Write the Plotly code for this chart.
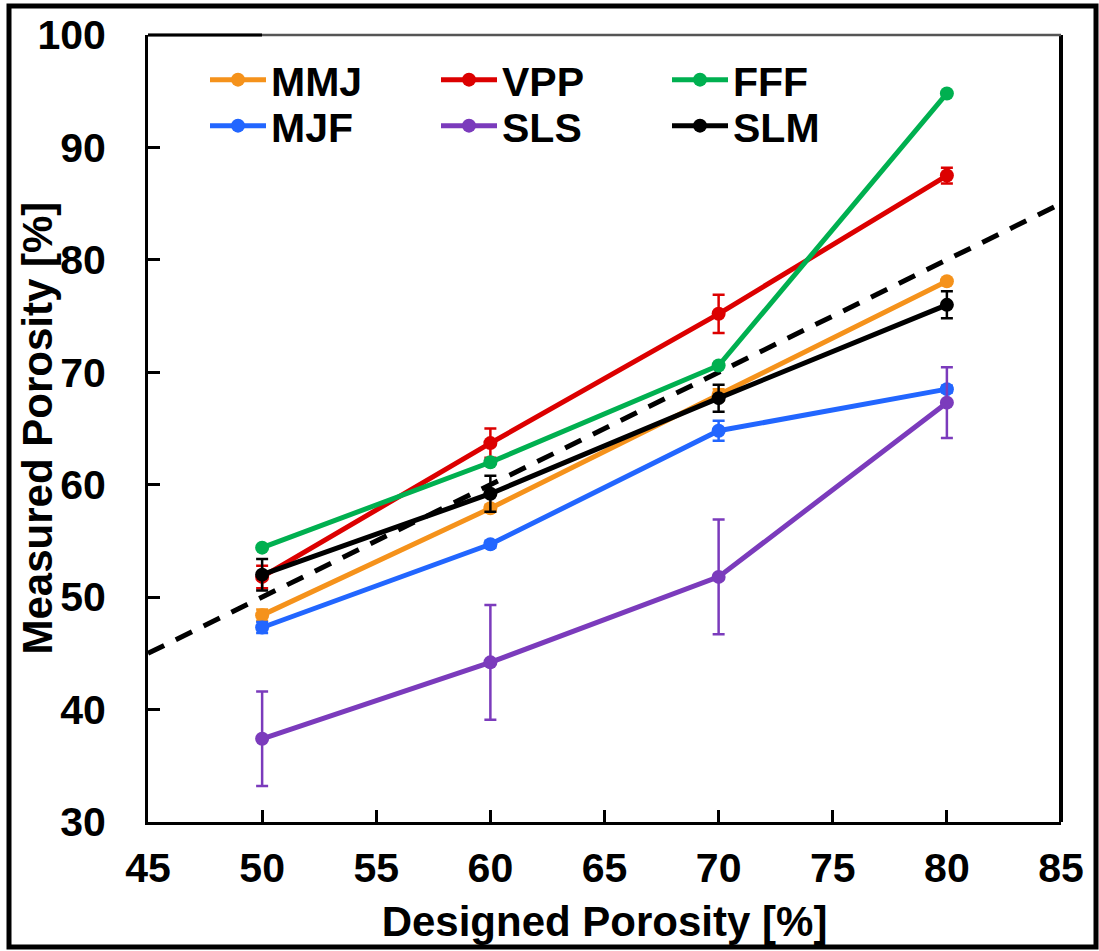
import plotly.graph_objects as go

designed = [50, 60, 70, 80]

series_names = ["MMJ", "VPP", "FFF", "MJF", "SLS", "SLM"]
mmj = [48.4, 57.9, 68.0, 78.1]
vpp = [51.8, 63.7, 75.2, 87.5]
fff = [54.4, 62.0, 70.6, 94.8]
mjf = [47.3, 54.7, 64.8, 68.5]
sls = [37.4, 44.2, 51.8, 67.3]
slm = [52.0, 59.2, 67.7, 76.0]

mmj_err = [0.5, 0.3, 0.5, 0.2]
vpp_err = [1.0, 1.3, 1.7, 0.7]
fff_err = [0.0, 0.0, 0.0, 0.0]
mjf_err = [0.5, 0.3, 0.9, 0.3]
sls_err = [4.2, 5.1, 5.1, 3.15]
slm_err = [1.4, 1.6, 1.2, 1.2]

ideal_x = [45, 85]
ideal_y = [45, 85]

x_title = "Designed Porosity [%]"
y_title = "Measured Porosity [%]"

colors = ["#F5921B", "#DC0000", "#00B050", "#2266FF", "#7B3BBC", "#000000"]
values = [mmj, vpp, fff, mjf, sls, slm]
errors = [mmj_err, vpp_err, fff_err, mjf_err, sls_err, slm_err]
legend_ids = ["legend", "legend", "legend", "legend2", "legend2", "legend2"]

FONT = "Liberation Sans, Arial, sans-serif"

fig = go.Figure()

fig.add_trace(go.Scatter(
    x=ideal_x, y=ideal_y, mode="lines",
    line=dict(color="black", width=5, dash="18px,13px"),
    showlegend=False, hoverinfo="skip",
))

for name, vals, err, col, lg in zip(series_names, values, errors, colors, legend_ids):
    fig.add_trace(go.Scatter(
        x=designed, y=vals, name=name, mode="lines+markers",
        line=dict(color=col, width=5),
        marker=dict(color=col, size=14),
        error_y=dict(type="data", array=err, visible=True,
                     color=col, thickness=2.5, width=6),
        legend=lg,
    ))

W, H = 1099, 951
L, R, T, B = 148, 1061, 35, 822
pw, ph = R - L, B - T

def px_x(p):
    return (p - L) / pw

def px_y(p):
    return (B - p) / ph

legend_common = dict(
    orientation="h", xanchor="left", yanchor="middle",
    entrywidth=160, entrywidthmode="pixels", itemwidth=56,
    font=dict(family=FONT, size=41, color="black", weight="bold"),
    bgcolor="rgba(0,0,0,0)", traceorder="normal",
)

fig.update_layout(
    width=W, height=H,
    margin=dict(l=L, r=W - R, t=T, b=H - B, pad=0),
    paper_bgcolor="white", plot_bgcolor="white",
    font=dict(family=FONT, size=41, color="black", weight="bold"),
    legend=dict(x=px_x(205), y=px_y(80), **legend_common),
    legend2=dict(x=px_x(205), y=px_y(126), **legend_common),
    xaxis=dict(
        range=[45, 85], tickmode="array", tickvals=list(range(45, 90, 5)),
        showgrid=False, zeroline=False,
        showline=True, linecolor="black", linewidth=3, mirror=False,
        ticks="inside", ticklen=12, tickwidth=3, tickcolor="black",
        ticklabelstandoff=8,
        tickfont=dict(family=FONT, size=41, color="black", weight="bold"),
        title=dict(text=x_title, standoff=17,
                   font=dict(family=FONT, size=42, color="black", weight="bold")),
    ),
    yaxis=dict(
        range=[30, 100], tickmode="array", tickvals=list(range(30, 110, 10)),
        showgrid=False, zeroline=False,
        showline=True, linecolor="black", linewidth=3, mirror=False,
        ticks="inside", ticklen=12, tickwidth=3, tickcolor="black",
        ticklabelstandoff=31,
        tickfont=dict(family=FONT, size=41, color="black", weight="bold"),
    ),
    annotations=[
        dict(text=y_title, xref="paper", yref="paper", x=px_x(37), y=0.5,
             xanchor="center", yanchor="middle", textangle=-90, showarrow=False,
             font=dict(family=FONT, size=42, color="black", weight="bold")),
    ],
    shapes=[
        # right frame of plot area
        dict(type="line", xref="paper", yref="paper", x0=1, x1=1, y0=0, y1=1,
             line=dict(color="black", width=4)),
        # top frame of plot area (gray)
        dict(type="line", xref="paper", yref="paper", x0=0, x1=1, y0=1, y1=1,
             line=dict(color="#555555", width=2.5)),
        dict(type="line", xref="paper", yref="paper", x0=0, x1=px_x(262), y0=1, y1=1,
             line=dict(color="black", width=3)),
        # outer image frame
        dict(type="rect", xref="paper", yref="paper",
             x0=px_x(9), x1=px_x(1096), y0=px_y(947), y1=px_y(6),
             line=dict(color="black", width=5)),
    ],
)

fig.write_html("out.html")
